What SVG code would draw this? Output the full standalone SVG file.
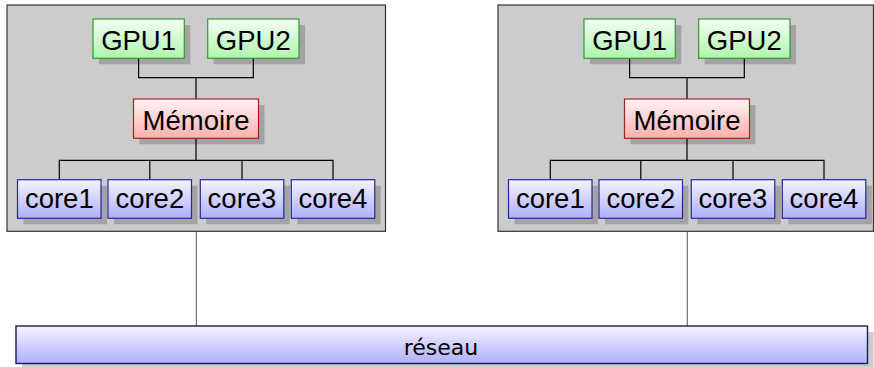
<svg xmlns="http://www.w3.org/2000/svg" width="874" height="367" viewBox="0 0 874 367">
  <defs>
    <linearGradient id="gGreen" x1="0" y1="0" x2="0" y2="1">
      <stop offset="0" stop-color="#f4fff4"/>
      <stop offset="1" stop-color="#aef5ae"/>
    </linearGradient>
    <linearGradient id="gRed" x1="0" y1="0" x2="0" y2="1">
      <stop offset="0" stop-color="#fff4f4"/>
      <stop offset="1" stop-color="#ffafaf"/>
    </linearGradient>
    <linearGradient id="gBlue" x1="0" y1="0" x2="0" y2="1">
      <stop offset="0" stop-color="#f4f4ff"/>
      <stop offset="1" stop-color="#afafff"/>
    </linearGradient>
  </defs>
  <style>
    .host { fill: #cccccc; stroke: #333333; stroke-width: 1.2; }
    .shadow { fill: #000000; fill-opacity: 0.2; }
    .gpu { fill: url(#gGreen); stroke: #2f9a2f; stroke-width: 1.2; }
    .mem { fill: url(#gRed); stroke: #a42222; stroke-width: 1.2; }
    .core { fill: url(#gBlue); stroke: #26269e; stroke-width: 1.2; }
    .net { fill: url(#gBlue); stroke: #1c1c4e; stroke-width: 1.4; }
    .lbl { font-family: "Liberation Sans", Arial, sans-serif; font-size: 27.5px; fill: #000000; text-anchor: middle; }
    .netlbl { font-family: "DejaVu Sans", sans-serif; font-size: 22px; fill: #000000; text-anchor: middle; }
    .wire { fill: none; stroke: #000000; stroke-width: 1.2; }
    .link { fill: none; stroke: #555555; stroke-width: 1; }
  </style>

  <!-- host 1 -->
  <g id="host1">
    <rect class="host" x="7" y="5" width="378.5" height="226.3"/>
    <g class="wires" id="host1-wires">
      <path class="wire" d="M138.6 58.3 V77.7 H253.3 V58.3 M196 77.7 V99 M196 138.3 V160.3 M59.3 179.7 V160.3 H333 V179.7 M149.8 160.3 V179.7 M242 160.3 V179.7"/>
    </g>
    <g id="host1-gpu1">
      <rect class="shadow" x="99" y="25" width="91.3" height="39.3"/>
      <rect class="gpu" x="93" y="19" width="91.3" height="39.3"/>
      <text class="lbl" x="138.6" y="50">GPU1</text>
    </g>
    <g id="host1-gpu2">
      <rect class="shadow" x="213.7" y="25" width="91.3" height="39.3"/>
      <rect class="gpu" x="207.7" y="19" width="91.3" height="39.3"/>
      <text class="lbl" x="253.3" y="50">GPU2</text>
    </g>
    <g id="host1-mem">
      <rect class="shadow" x="139.5" y="105" width="125" height="39.3"/>
      <rect class="mem" x="133.5" y="99" width="125" height="39.3"/>
      <text class="lbl" x="196" y="130.3">Mémoire</text>
    </g>
    <g id="host1-core1">
      <rect class="shadow" x="23.5" y="185.7" width="83.5" height="38.6"/>
      <rect class="core" x="17.5" y="179.7" width="83.5" height="38.6"/>
      <text class="lbl" x="59.3" y="208.3">core1</text>
    </g>
    <g id="host1-core2">
      <rect class="shadow" x="114" y="185.7" width="83.5" height="38.6"/>
      <rect class="core" x="108" y="179.7" width="83.5" height="38.6"/>
      <text class="lbl" x="149.8" y="208.3">core2</text>
    </g>
    <g id="host1-core3">
      <rect class="shadow" x="206.3" y="185.7" width="83.5" height="38.6"/>
      <rect class="core" x="200.3" y="179.7" width="83.5" height="38.6"/>
      <text class="lbl" x="242" y="208.3">core3</text>
    </g>
    <g id="host1-core4">
      <rect class="shadow" x="297.3" y="185.7" width="83.5" height="38.6"/>
      <rect class="core" x="291.3" y="179.7" width="83.5" height="38.6"/>
      <text class="lbl" x="333" y="208.3">core4</text>
    </g>
  </g>

  <!-- host 2 -->
  <g id="host2" transform="translate(491 0)">
    <rect class="host" x="7" y="5" width="375.5" height="226.3"/>
    <g class="wires" id="host2-wires">
      <path class="wire" d="M138.6 58.3 V77.7 H253.3 V58.3 M196 77.7 V99 M196 138.3 V160.3 M59.3 179.7 V160.3 H333 V179.7 M149.8 160.3 V179.7 M242 160.3 V179.7"/>
    </g>
    <g id="host2-gpu1">
      <rect class="shadow" x="99" y="25" width="91.3" height="39.3"/>
      <rect class="gpu" x="93" y="19" width="91.3" height="39.3"/>
      <text class="lbl" x="138.6" y="50">GPU1</text>
    </g>
    <g id="host2-gpu2">
      <rect class="shadow" x="213.7" y="25" width="91.3" height="39.3"/>
      <rect class="gpu" x="207.7" y="19" width="91.3" height="39.3"/>
      <text class="lbl" x="253.3" y="50">GPU2</text>
    </g>
    <g id="host2-mem">
      <rect class="shadow" x="139.5" y="105" width="125" height="39.3"/>
      <rect class="mem" x="133.5" y="99" width="125" height="39.3"/>
      <text class="lbl" x="196" y="130.3">Mémoire</text>
    </g>
    <g id="host2-core1">
      <rect class="shadow" x="23.5" y="185.7" width="83.5" height="38.6"/>
      <rect class="core" x="17.5" y="179.7" width="83.5" height="38.6"/>
      <text class="lbl" x="59.3" y="208.3">core1</text>
    </g>
    <g id="host2-core2">
      <rect class="shadow" x="114" y="185.7" width="83.5" height="38.6"/>
      <rect class="core" x="108" y="179.7" width="83.5" height="38.6"/>
      <text class="lbl" x="149.8" y="208.3">core2</text>
    </g>
    <g id="host2-core3">
      <rect class="shadow" x="206.3" y="185.7" width="83.5" height="38.6"/>
      <rect class="core" x="200.3" y="179.7" width="83.5" height="38.6"/>
      <text class="lbl" x="242" y="208.3">core3</text>
    </g>
    <g id="host2-core4">
      <rect class="shadow" x="297.3" y="185.7" width="83.5" height="38.6"/>
      <rect class="core" x="291.3" y="179.7" width="83.5" height="38.6"/>
      <text class="lbl" x="333" y="208.3">core4</text>
    </g>
  </g>

  <!-- host-to-network links -->
  <g id="links">
    <path class="link" d="M196.3 231.3 V326 M687.3 231.3 V326"/>
  </g>

  <!-- network bus -->
  <g id="reseau">
    <rect class="shadow" x="22" y="332" width="851.5" height="37.5"/>
    <rect class="net" x="16" y="326" width="851.5" height="37.5"/>
    <text class="netlbl" x="441" y="354.7">réseau</text>
  </g>
</svg>
